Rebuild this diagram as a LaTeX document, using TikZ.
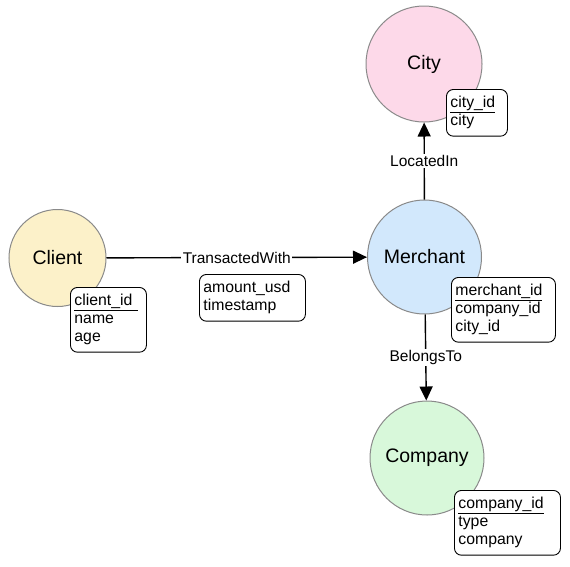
\documentclass[tikz,border=0pt]{standalone}
\usepackage{fontspec}
\setmainfont{Liberation Sans}
\usetikzlibrary{arrows.meta,positioning}

\definecolor{cityfill}{HTML}{FDD9E9}
\definecolor{clientfill}{HTML}{FCF1C9}
\definecolor{merchantfill}{HTML}{D2E8FC}
\definecolor{companyfill}{HTML}{D8F8DA}
\definecolor{rim}{HTML}{8A8A8A}

\begin{document}
\begin{tikzpicture}[
        x=1pt,
        y=-1pt,
        entity/.style={circle, draw=rim, line width=1pt, inner sep=0pt, font=\fontsize{19.5}{22}\selectfont},
        attr/.style={draw=black, line width=0.9pt, rounded corners=7pt, fill=white, align=left,
            inner xsep=4pt, inner ysep=7pt, font=\fontsize{15.8}{18}\selectfont},
        rel/.style={-{Triangle[length=14pt, width=13pt]}, line width=1.4pt, black},
        lab/.style={fill=white, inner sep=1.5pt, font=\fontsize{15.5}{18}\selectfont}
    ]
        \useasboundingbox (0,0) rectangle (570,566);

        \node[entity, fill=clientfill, minimum size=97pt] (client) at (57.5,258) {Client};
        \node[entity, fill=merchantfill, minimum size=114pt] (merchant) at (424.5,257) {Merchant};
        \node[entity, fill=cityfill, minimum size=116pt] (city) at (424,64) {City};
        \node[entity, fill=companyfill, minimum size=114pt] (company) at (427,458) {Company};

        \node[attr, anchor=north west, text width=68pt] (clientattr) at (70,287) {\underline{client\_id\ }\\name\\age};
        \node[attr, anchor=north west, text width=98pt] (txattr) at (199,274) {amount\_usd\\timestamp};
        \node[attr, anchor=north west, text width=96pt] (merchantattr) at (451,277) {\underline{merchant\_id}\\company\_id\\city\_id};
        \node[attr, anchor=north west, text width=53pt] (cityattr) at (446,89) {\underline{city\_id}\\city};
        \node[attr, anchor=north west, text width=98pt] (companyattr) at (454,490) {\underline{company\_id}\\type\\company};

        \draw[rel] (client) -- node[lab] {TransactedWith} (merchant);
        \draw[rel] (merchant) -- node[lab] {LocatedIn} (city);
        \draw[rel] (merchant) -- node[lab] {BelongsTo} (company);
    \end{tikzpicture}
\end{document}
